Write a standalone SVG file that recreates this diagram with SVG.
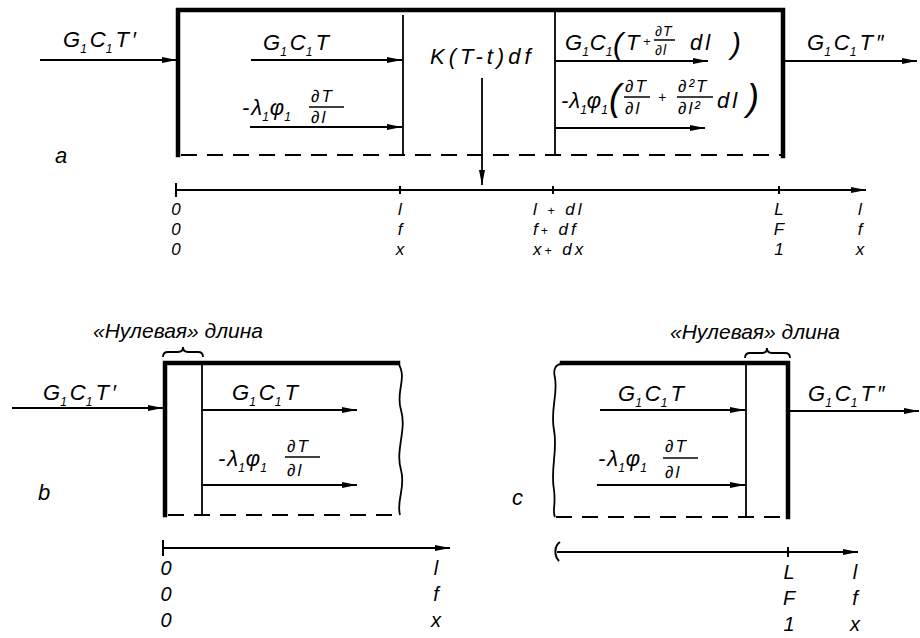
<svg xmlns="http://www.w3.org/2000/svg" width="920" height="638" viewBox="0 0 920 638">
<defs>
<marker id="ah" markerUnits="userSpaceOnUse" markerWidth="16" markerHeight="8" refX="15" refY="4" orient="auto"><path d="M0,1 L15,4 L0,7 Z" fill="#000"/></marker>
<style>
text{font-family:"Liberation Sans",Arial,sans-serif;font-style:italic;fill:#000}
.t{font-size:22px}
.s{font-size:12px}
.f{font-size:17px;letter-spacing:2px}
.lab{font-size:17px}
.labb{font-size:20px}
.thick{stroke:#000;stroke-width:4.5;fill:none;stroke-linecap:square;stroke-linejoin:miter}
.thin{stroke:#000;stroke-width:1.8;fill:none}
.dash{stroke:#000;stroke-width:2;fill:none;stroke-dasharray:16 10}
.ar{stroke:#000;stroke-width:1.8;fill:none;marker-end:url(#ah)}
.ax{stroke:#000;stroke-width:2;fill:none}
.bar{stroke:#000;stroke-width:1.5}
</style>
</defs>
<rect width="920" height="638" fill="#fff"/>

<!-- ===== Part a ===== -->
<g id="box-a">
<path class="thick" d="M178,155 V10 H783 V156"/>
<path class="dash" d="M181,155 H781"/>
<line class="thin" x1="403" y1="15" x2="403" y2="155"/>
<line class="thin" x1="555" y1="10" x2="555" y2="155"/>
</g>
<g id="axis-a">
<line class="ax" x1="176" y1="190" x2="866" y2="190" marker-end="url(#ah)"/>
<line class="ax" x1="176" y1="183" x2="176" y2="197"/>
<line class="ax" x1="400" y1="186" x2="400" y2="194"/>
<line class="ax" x1="553" y1="186" x2="553" y2="194"/>
<line class="ax" x1="779" y1="186" x2="779" y2="194"/>
</g>
<g id="connectors">
<line class="ar" x1="40" y1="60" x2="177" y2="60"/>
<line class="ar" x1="251" y1="60" x2="402" y2="60"/>
<line class="ar" x1="250" y1="127" x2="402" y2="127"/>
<line class="ar" x1="482" y1="78" x2="482" y2="185"/>
<line class="ar" x1="556" y1="61" x2="708" y2="61"/>
<line class="ar" x1="556" y1="128" x2="705" y2="128"/>
<line class="ar" x1="785" y1="61" x2="917" y2="61"/>
<line class="ar" x1="12" y1="408" x2="163" y2="408"/>
<line class="ar" x1="203" y1="410" x2="357" y2="410"/>
<line class="ar" x1="203" y1="485" x2="357" y2="485"/>
<line class="ar" x1="600" y1="410" x2="745" y2="410"/>
<line class="ar" x1="597" y1="485" x2="745" y2="485"/>
<line class="ar" x1="790" y1="411" x2="919" y2="411"/>
</g>
<g id="labels-a">
<text class="t" x="63" y="47">G<tspan class="s" dy="6">1</tspan><tspan dx="3" dy="-6">C</tspan><tspan class="s" dy="6">1</tspan><tspan dx="3" dy="-6">T</tspan><tspan dx="3">′</tspan></text>
<text class="t" x="263" y="50">G<tspan class="s" dy="6">1</tspan><tspan dx="3" dy="-6">C</tspan><tspan class="s" dy="6">1</tspan><tspan dx="3" dy="-6">T</tspan></text>
<text class="t" x="242" y="115">-<tspan dx="2">λ</tspan><tspan class="s" dy="6">1</tspan><tspan dx="1" dy="-6">φ</tspan><tspan class="s" dy="6">1</tspan></text>
<text class="f" x="311" y="102">∂T</text>
<line class="bar" x1="309" y1="107" x2="344" y2="107"/>
<text class="f" x="311" y="123">∂l</text>
<text class="t" x="430" y="64" letter-spacing="4">K(T-t)df</text>
<text class="t" x="565" y="50">G<tspan class="s" dy="6">1</tspan><tspan dx="1" dy="-6">C</tspan><tspan class="s" dy="6">1</tspan></text>
<text x="613" y="54" font-size="30">(</text>
<text class="t" x="626" y="50">T</text>
<text x="643" y="46" font-size="13">+</text>
<text x="655" y="36" font-size="14" letter-spacing="1">∂T</text>
<line class="bar" x1="654" y1="40" x2="675" y2="40"/>
<text x="655" y="55" font-size="14" letter-spacing="1">∂l</text>
<text class="t" x="690" y="50" letter-spacing="3">dl</text>
<text x="731" y="54" font-size="30">)</text>
<text class="t" x="561" y="108">-<tspan dx="1">λ</tspan><tspan class="s" dy="6">1</tspan><tspan dy="-6">φ</tspan><tspan class="s" dy="6">1</tspan></text>
<text x="609" y="110" font-size="36">(</text>
<text class="f" x="625" y="92">∂T</text>
<line class="bar" x1="624" y1="97" x2="650" y2="97"/>
<text class="f" x="625" y="114">∂l</text>
<text x="658" y="102" font-size="14">+</text>
<text class="f" x="678" y="92">∂²T</text>
<line class="bar" x1="677" y1="97" x2="713" y2="97"/>
<text class="f" x="678" y="114">∂l²</text>
<text class="t" x="717" y="108" letter-spacing="3">dl</text>
<text x="747" y="110" font-size="36">)</text>
<text class="t" x="807" y="50">G<tspan class="s" dy="6">1</tspan><tspan dx="3" dy="-6">C</tspan><tspan class="s" dy="6">1</tspan><tspan dx="3" dy="-6">T</tspan><tspan dx="3">″</tspan></text>
<text class="t" x="55" y="163">a</text>
</g>
<g id="axis-labels-a" text-anchor="middle">
<text class="lab" x="176" y="215">0</text>
<text class="lab" x="176" y="235">0</text>
<text class="lab" x="176" y="255">0</text>
<text class="lab" x="400" y="215">l</text>
<text class="lab" x="400" y="235">f</text>
<text class="lab" x="400" y="255">x</text>
<text class="lab" x="779" y="215">L</text>
<text class="lab" x="779" y="235">F</text>
<text class="lab" x="779" y="255">1</text>
<text class="lab" x="860" y="215">l</text>
<text class="lab" x="860" y="235">f</text>
<text class="lab" x="860" y="255">x</text>
</g>
<g id="axis-labels-a2">
<text class="lab" x="533" y="215" letter-spacing="3">l <tspan font-size="12">+</tspan> dl</text>
<text class="lab" x="533" y="235" letter-spacing="3">f<tspan font-size="12">+</tspan> df</text>
<text class="lab" x="533" y="255" letter-spacing="3">x<tspan font-size="12">+</tspan> dx</text>
</g>

<!-- ===== Part b ===== -->
<g id="box-b">
<path class="thick" d="M165,515 V363 H398"/>
<path class="thin" d="M398,363 C408,378 395,392 401,410 C407,430 395,450 401,470 C406,488 396,500 400,515"/>
<line class="thin" x1="202" y1="363" x2="202" y2="515"/>
<path class="dash" d="M168,515 H400"/>
<path class="thin" d="M163,357 Q163,352 168,352 L178,352 Q183,352 183,347 Q183,352 188,352 L198,352 Q203,352 203,357"/>
</g>
<g id="axis-b">
<line class="ax" x1="163" y1="548" x2="450" y2="548" marker-end="url(#ah)"/>
<line class="ax" x1="163" y1="540" x2="163" y2="556"/>
</g>
<g id="labels-b">
<text x="93" y="338" font-size="21">«Нулевая» длина</text>
<text class="t" x="43" y="400">G<tspan class="s" dy="6">1</tspan><tspan dx="3" dy="-6">C</tspan><tspan class="s" dy="6">1</tspan><tspan dx="3" dy="-6">T</tspan><tspan dx="3">′</tspan></text>
<text class="t" x="232" y="400">G<tspan class="s" dy="6">1</tspan><tspan dx="3" dy="-6">C</tspan><tspan class="s" dy="6">1</tspan><tspan dx="3" dy="-6">T</tspan></text>
<text class="t" x="218" y="466">-<tspan dx="2">λ</tspan><tspan class="s" dy="6">1</tspan><tspan dx="1" dy="-6">φ</tspan><tspan class="s" dy="6">1</tspan></text>
<text class="f" x="287" y="452">∂T</text>
<line class="bar" x1="285" y1="457" x2="320" y2="457"/>
<text class="f" x="287" y="476">∂l</text>
<text class="t" x="38" y="500">b</text>
<text class="labb" x="166" y="575" text-anchor="middle">0</text>
<text class="labb" x="166" y="601" text-anchor="middle">0</text>
<text class="labb" x="166" y="627" text-anchor="middle">0</text>
<text class="labb" x="436" y="575" text-anchor="middle">l</text>
<text class="labb" x="436" y="601" text-anchor="middle">f</text>
<text class="labb" x="436" y="627" text-anchor="middle">x</text>
</g>

<!-- ===== Part c ===== -->
<g id="box-c">
<path class="thick" d="M562,363 H788 V517"/>
<path class="thin" d="M562,364 C555,364 553,370 555,378 C558,395 550,410 554,430 C558,450 550,470 554,490 C556,505 552,512 555,517"/>
<line class="thin" x1="746" y1="363" x2="746" y2="517"/>
<path class="dash" d="M556,517 H786"/>
<path class="thin" d="M745,358 Q745,353 750,353 L762,353 Q767,353 767,348 Q767,353 772,353 L785,353 Q790,353 790,358"/>
</g>
<g id="axis-c">
<line class="ax" x1="557" y1="552" x2="858" y2="552" marker-end="url(#ah)"/>
<path class="ax" d="M560,542 C554,546 554,556 559,561"/>
<line class="ax" x1="788" y1="547" x2="788" y2="557"/>
</g>
<g id="labels-c">
<text x="670" y="339" font-size="21">«Нулевая» длина</text>
<text class="t" x="618" y="401">G<tspan class="s" dy="6">1</tspan><tspan dx="3" dy="-6">C</tspan><tspan class="s" dy="6">1</tspan><tspan dx="3" dy="-6">T</tspan></text>
<text class="t" x="598" y="466">-<tspan dx="2">λ</tspan><tspan class="s" dy="6">1</tspan><tspan dx="1" dy="-6">φ</tspan><tspan class="s" dy="6">1</tspan></text>
<text class="f" x="665" y="452">∂T</text>
<line class="bar" x1="663" y1="458" x2="698" y2="458"/>
<text class="f" x="665" y="478">∂l</text>
<text class="t" x="808" y="401">G<tspan class="s" dy="6">1</tspan><tspan dx="3" dy="-6">C</tspan><tspan class="s" dy="6">1</tspan><tspan dx="3" dy="-6">T</tspan><tspan dx="3">″</tspan></text>
<text class="t" x="512" y="505">c</text>
<text class="labb" x="789" y="579" text-anchor="middle">L</text>
<text class="labb" x="789" y="605" text-anchor="middle">F</text>
<text class="labb" x="789" y="631" text-anchor="middle">1</text>
<text class="labb" x="855" y="579" text-anchor="middle">l</text>
<text class="labb" x="855" y="605" text-anchor="middle">f</text>
<text class="labb" x="855" y="631" text-anchor="middle">x</text>
</g>
</svg>
